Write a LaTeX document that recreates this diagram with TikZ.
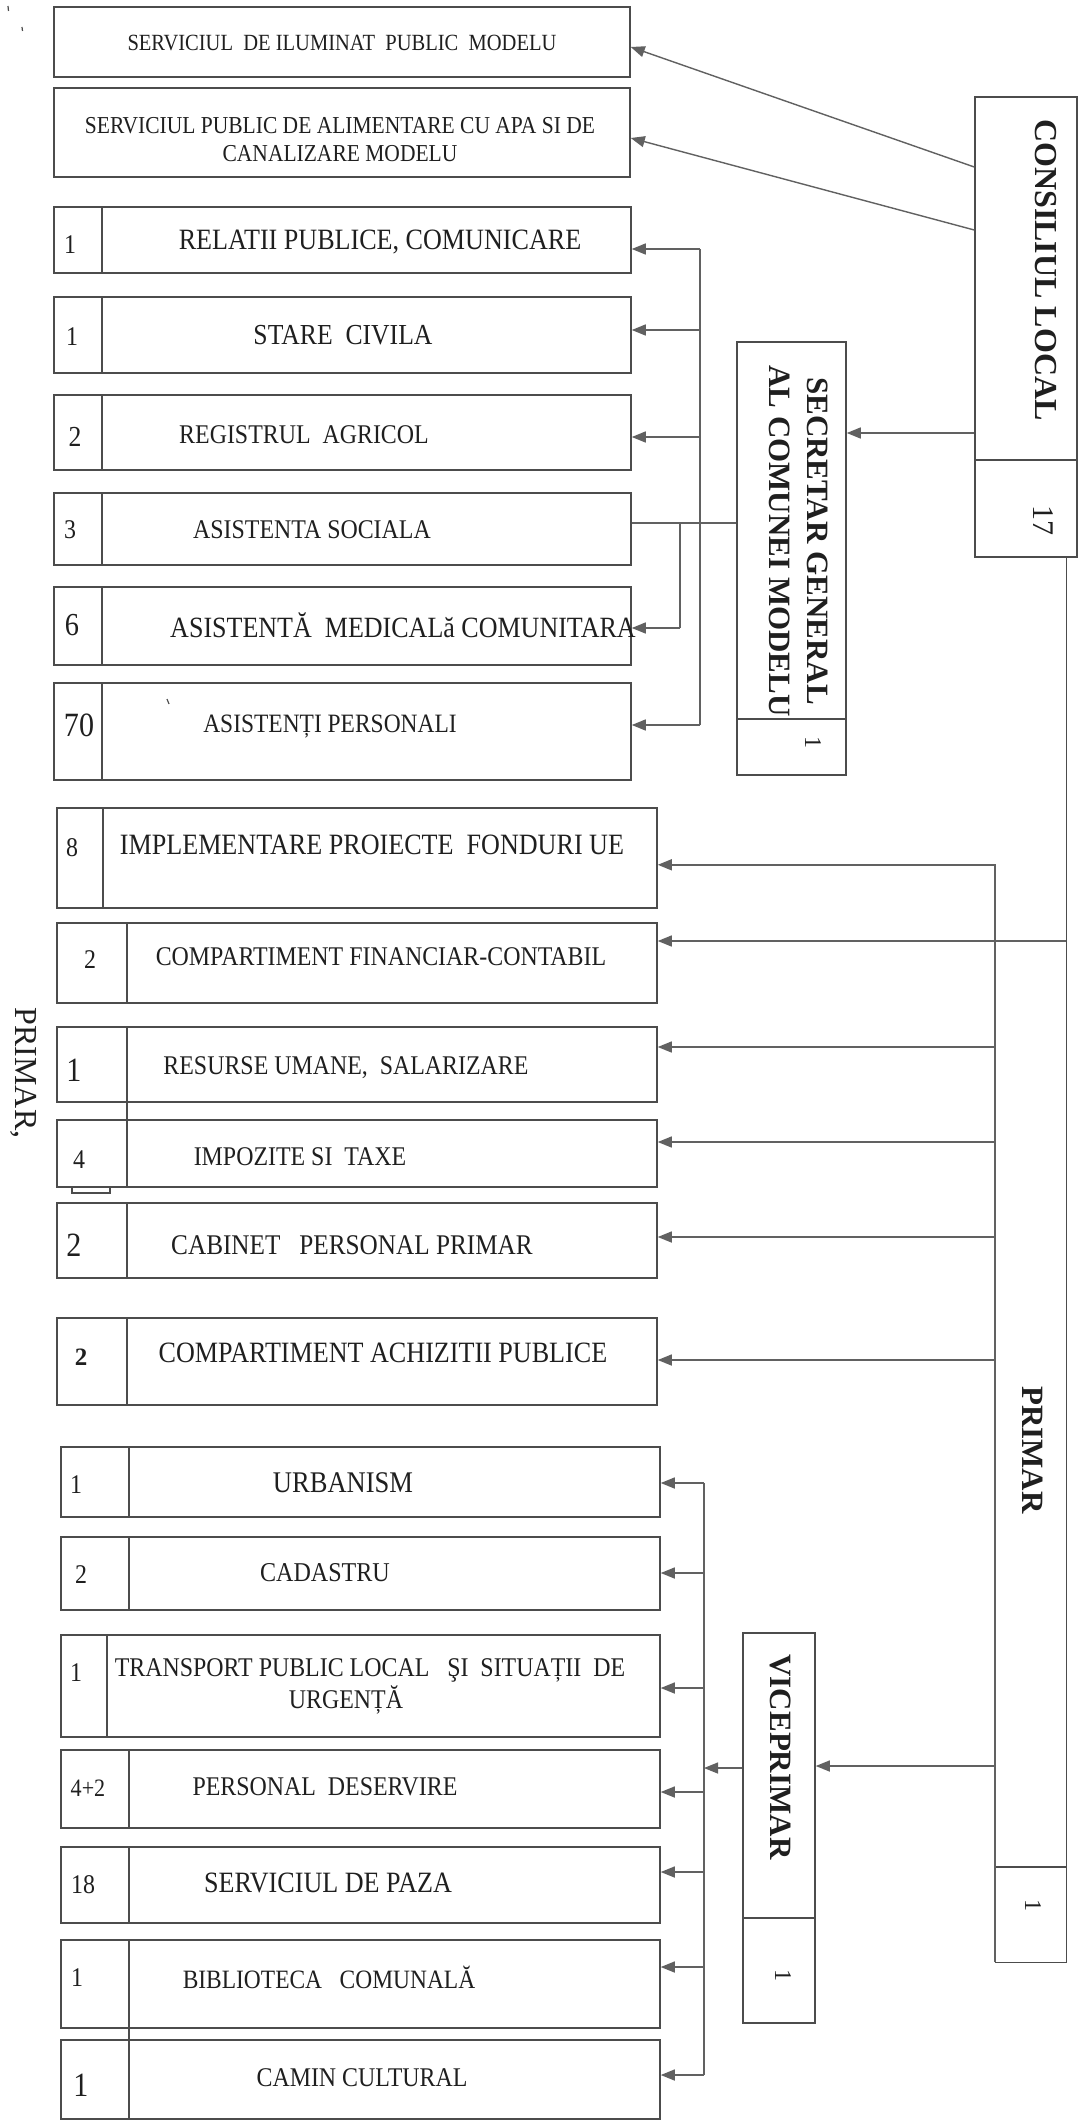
\documentclass[tikz,border=0pt]{standalone}
\usepackage{fontspec}
\setmainfont{Liberation Serif}
\newfontfamily\cf{Liberation Serif}[FakeStretch=0.885]
\usetikzlibrary{arrows.meta,fit}
\definecolor{lc}{gray}{0.30}
\definecolor{ac}{gray}{0.38}
\definecolor{tc}{gray}{0.12}
\newcommand\fs[2]{\fontsize{#1}{#2}\selectfont}
\newcommand\ub[6]{\node[bx,fit={(#2,#3)(#4,#5)}] (#1) {};\draw[ln] (#6,#3) -- (#6,#5);}
\begin{document}
\begin{tikzpicture}[x=1pt,y=-1pt,
 bx/.style={draw=lc,line width=1.5pt,inner sep=0pt},
 ln/.style={draw=lc,line width=1.4pt},
 cn/.style={draw=ac,line width=1.4pt},
 arr/.style={cn,-{Triangle[length=14pt,width=11pt]}},
 tx/.style={inner sep=0pt,text=tc,align=center},
 nm/.style={inner sep=0pt,text=tc},
 rt/.style={inner sep=0pt,text=tc,rotate=-90,align=center}]
\useasboundingbox (0,0) rectangle (1080,2122);
\fill[white] (0,0) rectangle (1080,2122);
% stray scan marks
\draw[lc,line width=1.2pt] (8,6) -- (8.5,11);
\draw[lc,line width=1.2pt] (22,27) -- (22.5,31);
\draw[lc,line width=1.2pt] (167,699) -- (169,704);

% ---- top services
\node[bx,fit={(54,7)(630,77)}] (il) {};
\node[tx,font=\cf\fs{23.2}{27}] (til) at (342,43) {SERVICIUL\ \ DE ILUMINAT\ \ PUBLIC\ \ MODELU};
\node[bx,fit={(54,88)(630,177)}] (apa) {};
\node[tx,font=\cf\fs{24.3}{28}] (tapa) at (340,140) {SERVICIUL PUBLIC DE ALIMENTARE CU APA SI DE\\CANALIZARE MODELU};

% ---- secretar group
\ub{rel}{54}{207}{631}{273}{102}
\node[nm,font=\cf\fs{27}{30}] (nrel) at (70,245) {1};
\node[tx,font=\cf\fs{29.5}{34}] (trel) at (380,242) {RELATII PUBLICE, COMUNICARE};
\ub{stare}{54}{297}{631}{373}{102}
\node[nm,font=\cf\fs{27}{30}] (nstare) at (72,337) {1};
\node[tx,font=\cf\fs{29}{34}] (tstare) at (343,335) {STARE\ \ CIVILA};
\ub{reg}{54}{395}{631}{470}{102}
\node[nm,font=\cf\fs{29}{32}] (nreg) at (75,437) {2};
\node[tx,font=\cf\fs{27}{34}] (treg) at (304,435) {REGISTRUL\ \ AGRICOL};
\ub{soc}{54}{493}{631}{565}{102}
\node[nm,font=\cf\fs{27}{30}] (nsoc) at (70,530) {3};
\node[tx,font=\cf\fs{27}{34}] (tsoc) at (312,530) {ASISTENTA SOCIALA};
\ub{med}{54}{587}{631}{665}{102}
\node[nm,font=\cf\fs{32}{36}] (nmed) at (72,625) {6};
\node[tx,font=\cf\fs{29.4}{34}] (tmed) at (403,625) {ASISTENTĂ\ \ MEDICALă COMUNITARA};
\ub{pers}{54}{683}{631}{780}{102}
\node[nm,font=\cf\fs{34}{38}] (npers) at (79,725) {70};
\node[tx,font=\cf\fs{26.5}{34}] (tpers) at (330,727) {ASISTENȚI PERSONALI};

\node[bx,fit={(737,342)(846,775)}] (sec) {};
\draw[ln] (sec.west |- 0,719) -- (sec.east |- 0,719);
\node[rt,font=\bfseries\fs{31}{38}] (tsec) at (799,541) {SECRETAR GENERAL\\AL COMUNEI MODELU};
\node[rt,font=\fs{24}{28}] (nsec) at (813,742) {1};

\node[bx,fit={(975,97)(1077,557)}] (cl) {};
\draw[ln] (cl.west |- 0,460) -- (cl.east |- 0,460);
\node[rt,font=\bfseries\fs{32}{38}] (tcl) at (1046,270) {CONSILIUL LOCAL};
\node[rt,font=\fs{30}{34}] (ncl) at (1043,520) {17};

% ---- primar group
\ub{impl}{57}{808}{657}{908}{103}
\node[nm,font=\cf\fs{27}{30}] (nimpl) at (72,848) {8};
\node[tx,font=\cf\fs{29.5}{34}] (timpl) at (372,845) {IMPLEMENTARE PROIECTE\ \ FONDURI UE};
\ub{fin}{57}{923}{657}{1003}{127}
\node[nm,font=\cf\fs{27}{30}] (nfin) at (90,960) {2};
\node[tx,font=\cf\fs{27}{34}] (tfin) at (381,957) {COMPARTIMENT FINANCIAR-CONTABIL};
\ub{res}{57}{1027}{657}{1102}{127}
\node[nm,font=\cf\fs{34}{38}] (nres) at (74,1070) {1};
\node[tx,font=\cf\fs{27}{34}] (tres) at (346,1068) {RESURSE UMANE,\ \ SALARIZARE};
\draw[ln] (127,1102) -- (127,1120);
\ub{imp}{57}{1120}{657}{1187}{127}
\node[nm,font=\cf\fs{27}{30}] (nimp) at (79,1160) {4};
\node[tx,font=\cf\fs{27}{34}] (timp) at (300,1157) {IMPOZITE SI\ \ TAXE};
\draw[ln] (72,1187) rectangle (110,1193);
\ub{cab}{57}{1203}{657}{1278}{127}
\node[nm,font=\cf\fs{34}{38}] (ncab) at (74,1245) {2};
\node[tx,font=\cf\fs{28.5}{34}] (tcab) at (352,1245) {CABINET\ \ \ PERSONAL PRIMAR};
\ub{ach}{57}{1318}{657}{1405}{127}
\node[nm,font=\bfseries\fs{25}{28}] (nach) at (81,1357) {2};
\node[tx,font=\cf\fs{29.5}{34}] (tach) at (383,1353) {COMPARTIMENT ACHIZITII PUBLICE};

\node[inner sep=0pt,fit={(995,865)(1066,1962)}] (pr) {};
\draw[ln] (pr.south west) -- (pr.south east) -- (cl.south -| pr.east);
\draw[ln] (pr.west |- 0,1867) -- (pr.east |- 0,1867);
\node[rt,font=\bfseries\fs{31}{36}] (tpr) at (1033,1450) {PRIMAR};
\node[rt,font=\fs{24}{28}] (npr) at (1033,1905) {1};

\node[rt,font=\fs{32}{36}] (lprim) at (24,1073) {PRIMAR,};

% ---- viceprimar group
\ub{urb}{61}{1447}{660}{1517}{129}
\node[nm,font=\cf\fs{27}{30}] (nurb) at (76,1485) {1};
\node[tx,font=\cf\fs{30}{34}] (turb) at (343,1483) {URBANISM};
\ub{cad}{61}{1537}{660}{1610}{129}
\node[nm,font=\cf\fs{27}{30}] (ncad) at (81,1575) {2};
\node[tx,font=\cf\fs{27.2}{34}] (tcad) at (325,1573) {CADASTRU};
\ub{tra}{61}{1635}{660}{1737}{107}
\node[nm,font=\cf\fs{27}{30}] (ntra) at (76,1673) {1};
\node[tx,font=\cf\fs{27}{34}] (ttra) at (370,1670) {TRANSPORT PUBLIC LOCAL\ \ \ ŞI\ \ SITUAȚII\ \ DE};
\node[tx,font=\cf\fs{27}{34}] (ttra2) at (346,1700) {URGENȚĂ};
\ub{des}{61}{1750}{660}{1828}{129}
\node[nm,font=\cf\fs{25}{30}] (ndes) at (88,1788) {4+2};
\node[tx,font=\cf\fs{27}{34}] (tdes) at (325,1787) {PERSONAL\ \ DESERVIRE};
\ub{paz}{61}{1847}{660}{1923}{129}
\node[nm,font=\cf\fs{27}{30}] (npaz) at (83,1885) {18};
\node[tx,font=\cf\fs{29.5}{34}] (tpaz) at (328,1883) {SERVICIUL DE PAZA};
\ub{bib}{61}{1940}{660}{2028}{129}
\node[nm,font=\cf\fs{27}{30}] (nbib) at (77,1978) {1};
\node[tx,font=\cf\fs{26.5}{34}] (tbib) at (329,1977) {BIBLIOTECA\ \ \ COMUNALĂ};
\draw[ln] (129,2028) -- (129,2040);
\ub{cam}{61}{2040}{660}{2119}{129}
\node[nm,font=\cf\fs{34}{38}] (ncam) at (81,2085) {1};
\node[tx,font=\cf\fs{27}{34}] (tcam) at (362,2078) {CAMIN CULTURAL};

\node[bx,fit={(743,1633)(815,2023)}] (vp) {};
\draw[ln] (vp.west |- 0,1918) -- (vp.east |- 0,1918);
\node[rt,font=\bfseries\fs{31}{36}] (tvp) at (781,1757) {VICEPRIMAR};
\node[rt,font=\fs{24}{28}] (nvp) at (783,1975) {1};

% ---- connectors: consiliul
\draw[arr] (cl.west |- 0,167) -- (il.east |- 0,47);
\draw[arr] (cl.west |- 0,230) -- (apa.east |- 0,138);
\draw[arr] (cl.west |- 0,433) -- (sec.east |- 0,433);
% secretar
\draw[cn] (sec.west |- 0,523) -- (soc.east |- 0,523);
\coordinate (s1) at (700,249);
\coordinate (s2) at (700,725);
\coordinate (m1) at (680,523);
\coordinate (m2) at (680,628);
\draw[cn] (s1) -- (s2);
\draw[cn] (m1) -- (m2);
\draw[arr] (s1) -- (rel.east |- s1);
\draw[arr] (700,330) -- (stare.east |- 0,330);
\draw[arr] (700,437) -- (reg.east |- 0,437);
\draw[arr] (s2) -- (pers.east |- s2);
\draw[arr] (m2) -- (med.east |- m2);
% primar
\draw[arr] (pr.south west) -- (pr.north west) -- (impl.east |- pr.north west);
\draw[arr] (pr.east |- 0,941) -- (fin.east |- 0,941);
\draw[arr] (pr.west |- 0,1047) -- (res.east |- 0,1047);
\draw[arr] (pr.west |- 0,1142) -- (imp.east |- 0,1142);
\draw[arr] (pr.west |- 0,1237) -- (cab.east |- 0,1237);
\draw[arr] (pr.west |- 0,1360) -- (ach.east |- 0,1360);
\draw[arr] (pr.west |- 0,1766) -- (vp.east |- 0,1766);
% viceprimar
\coordinate (u1) at (704,1483);
\coordinate (u2) at (704,2075);
\draw[cn] (u1) -- (u2);
\draw[arr] (vp.west |- 0,1768) -- (704,1768);
\draw[arr] (u1) -- (urb.east |- u1);
\draw[arr] (704,1573) -- (cad.east |- 0,1573);
\draw[arr] (704,1688) -- (tra.east |- 0,1688);
\draw[arr] (704,1792) -- (des.east |- 0,1792);
\draw[arr] (704,1872) -- (paz.east |- 0,1872);
\draw[arr] (704,1967) -- (bib.east |- 0,1967);
\draw[arr] (u2) -- (cam.east |- u2);
\end{tikzpicture}
\end{document}
